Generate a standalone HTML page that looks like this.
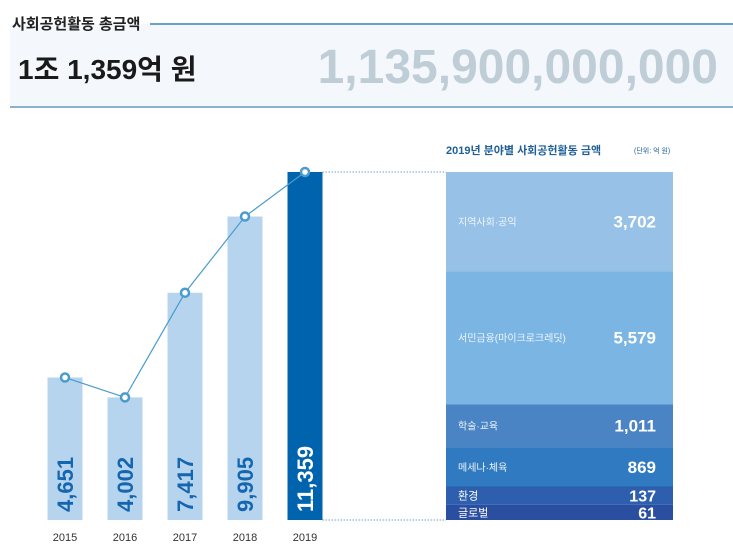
<!DOCTYPE html>
<html><head><meta charset="utf-8"><style>
body{margin:0;width:733px;height:560px;background:#fff;overflow:hidden;font-family:"Liberation Sans","Noto Sans CJK KR",sans-serif;}
svg{display:block}
</style></head><body>
<svg id="c" width="733" height="560" xmlns="http://www.w3.org/2000/svg">
<rect x="10" y="24" width="723" height="83" fill="#f4f8fc"/>
<line x1="150" y1="24" x2="733" y2="24" stroke="#3a84b8" stroke-width="1.5"/>
<line x1="10" y1="107" x2="733" y2="107" stroke="#8fb0c8" stroke-width="2"/>
<text x="12" y="29" font-size="15" font-weight="bold" fill="#222">사회공헌활동 총금액</text>
<text x="18" y="79" font-size="28" font-weight="bold" fill="#1a1a1a">1조 1,359억 원</text>
<text x="718" y="83" font-size="48" font-weight="bold" fill="#bfcdd6" text-anchor="end">1,135,900,000,000</text>
<text x="446" y="154" font-size="11" font-weight="bold" fill="#1f5f96">2019년 분야별 사회공헌활동 금액</text>
<text x="634" y="153" font-size="7" fill="#1f5f96">(단위: 억 원)</text>
<g id="bars"></g>
<g id="stack"></g>
</svg>
<script>
const years = ["2015","2016","2017","2018","2019"];
const totals = [4651,4002,7417,9905,11359];
const totalLabels = ["4,651","4,002","7,417","9,905","11,359"];
const categories = ["지역사회·공익","서민금융(마이크로크레딧)","학술·교육","메세나·체육","환경","글로벌"];
const catValues = [3702,5579,1011,869,137,61];
const catLabels = ["3,702","5,579","1,011","869","137","61"];

const NS="http://www.w3.org/2000/svg";
const base=520, top0=172, x0=65, step=60, bw=35;
const maxV=Math.max(...totals);
const y=v=>base-(base-top0)*v/maxV;
const x=i=>x0+i*step;
function mk(t,a,p){const e=document.createElementNS(NS,t);for(const k in a)e.setAttribute(k,a[k]);p.appendChild(e);return e;}
const g=document.getElementById('bars');
totals.forEach((v,i)=>{
  const last=i===totals.length-1;
  const r=mk('rect',{x:x(i)-bw/2,y:y(v),width:bw,height:base-y(v),fill:last?'#0063ad':'#b7d4ee'},g);
  
  
  const t=mk('text',{x:0,y:0,transform:`translate(${x(i)+8},512) rotate(-90)`,'font-size':22,'font-weight':'bold',fill:last?'#fff':'#1466b0'},g);
  t.textContent=totalLabels[i];
  
  
  const yl=mk('text',{x:x(i),y:541,'font-size':11,fill:'#333','text-anchor':'middle'},g);
  yl.textContent=years[i];
  
  
});
const pts=totals.map((v,i)=>x(i)+','+y(v)).join(' ');
const pl=mk('polyline',{points:pts,fill:'none',stroke:'#4a9ccc','stroke-width':1.2},g);


totals.forEach((v,i)=>{
  const c=mk('circle',{cx:x(i),cy:y(v),r:4,fill:'#fff',stroke:'#4a9ccc','stroke-width':2.5},g);
  
  
});
const s=document.getElementById('stack');
const sx=446, sw=227, H=base-top0, minH=12;
const colors=['#97c1e6','#7ab5e3','#4a84c4','#2f7ac0','#2d5fae','#2b4fa0'];
const lastTop=y(totals[totals.length-1]);
let d1=mk('line',{x1:x(4)+bw/2,y1:lastTop,x2:sx,y2:lastTop,stroke:'#6aa6d6','stroke-dasharray':'1.5 1.5'},s);

let d2=mk('line',{x1:x(4)+bw/2,y1:base,x2:sx,y2:base,stroke:'#6aa6d6','stroke-dasharray':'1.5 1.5'},s);

const w=catValues.map(v=>Math.pow(v,0.8));
const wsum=w.reduce((a,b)=>a+b,0);
const rest=H-minH*catValues.length;
let cy=lastTop;
catValues.forEach((v,i)=>{
  const h=minH+rest*w[i]/wsum;
  const r=mk('rect',{x:sx,y:cy,width:sw,height:h,fill:colors[i]},s);
  
  
  const small=h<25;
  const my=cy+h/2;
  const t=mk('text',{x:sx+12,y:my+4,'font-size':small?11:10,fill:small?'#fff':'#eef5fc'},s);
  t.textContent=categories[i];
  
  
  const vt=mk('text',{x:656,y:my+6,'font-size':small?16:17,'font-weight':'bold',fill:'#fff','text-anchor':'end'},s);
  vt.textContent=catLabels[i];
  
  
  cy+=h;
});
</script>
</body></html>
